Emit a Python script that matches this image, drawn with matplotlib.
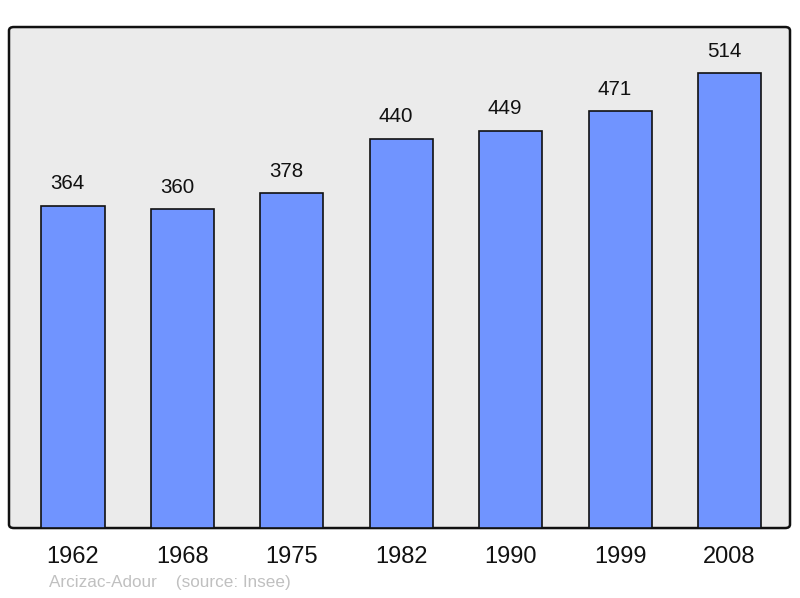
import matplotlib
matplotlib.use("Agg")
import matplotlib.pyplot as plt
from matplotlib.patches import FancyBboxPatch

years = ["1962", "1968", "1975", "1982", "1990", "1999", "2008"]
population = [364, 360, 378, 440, 449, 471, 514]
footer = "Arcizac-Adour    (source: Insee)"

plt.rcParams["font.family"] = ["Liberation Sans", "DejaVu Sans"]

fig = plt.figure(figsize=(8, 5.98), dpi=100)
ax = fig.add_axes([0.01125, 0.117, 0.97625, 0.8378])
ax.set_facecolor("none")

# rounded frame behind the axes
frame = FancyBboxPatch((0.01125, 0.117), 0.97625, 0.8378,
                       boxstyle="round,pad=0,rounding_size=0.006",
                       transform=fig.transFigure, facecolor="#ebebeb",
                       edgecolor="#111111", linewidth=1.8, zorder=-1)
fig.patches.append(frame)

x = range(len(years))
bars = ax.bar(x, population, width=0.576, color="#7094ff",
              edgecolor="#111111", linewidth=1.2, zorder=2)
for xi, v in zip(x, population):
    ax.annotate(str(v), (xi, v), xytext=(-4, 9), textcoords="offset points",
                ha="center", va="bottom", fontsize=14.8, color="#111111")

ax.set_xlim(-0.585, 6.553)
ax.set_ylim(0, 566)
ax.set_yticks([])
ax.set_xticks(list(x))
ax.set_xticklabels(years, fontsize=17, color="#111111")
ax.tick_params(axis="x", length=0, pad=13)
for s in ax.spines.values():
    s.set_visible(False)

fig.text(49 / 800, 1 - 583 / 598, footer, fontsize=12.3, color="#c0c0c0",
         ha="left", va="center")

fig.savefig("out.png", dpi=100)
